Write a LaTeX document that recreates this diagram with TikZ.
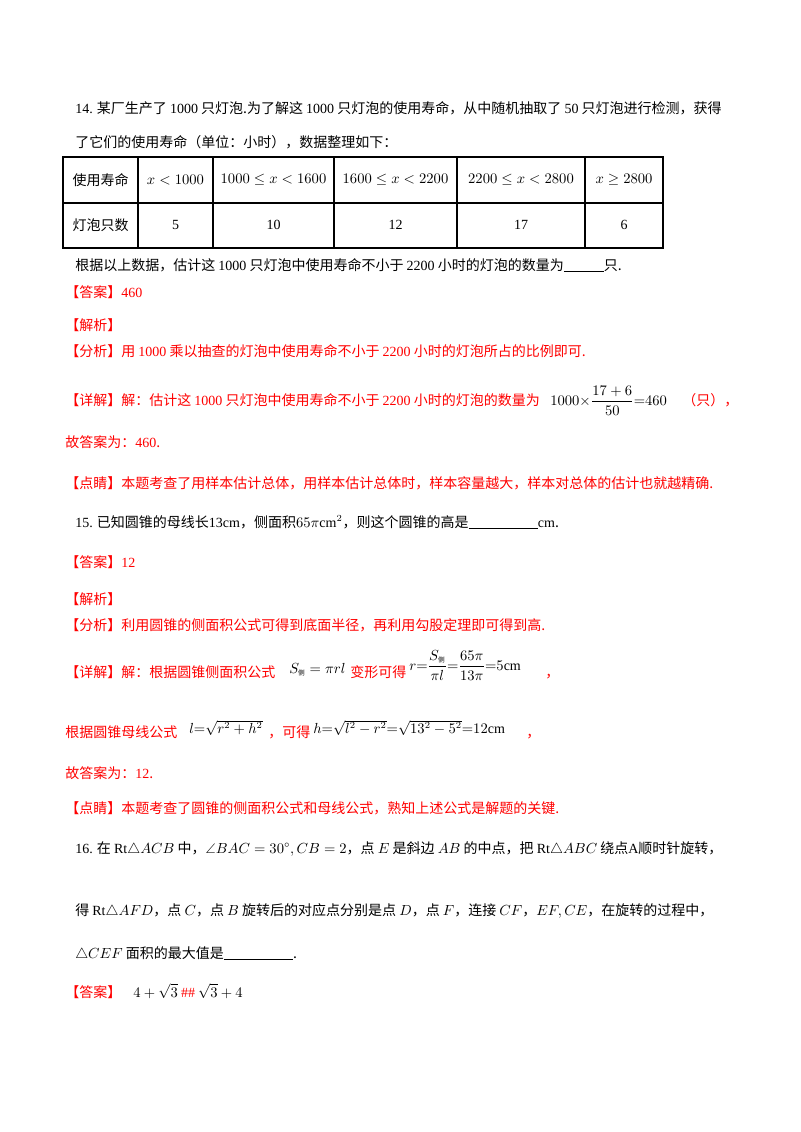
\documentclass[tikz,border=0pt]{standalone}
\usepackage{fontspec}
\usepackage{amsmath,amssymb}
\setmainfont{Liberation Serif}
\newfontfamily\cjk{Noto Sans CJK SC}
\newcommand{\tm}[1]{{\rmfamily #1}}
\begin{document}
\begin{tikzpicture}[x=0.75pt,y=-0.75pt,
  tx/.style={anchor=base west,inner sep=0pt,font=\cjk\fontsize{10.5}{12}\selectfont},
  mt/.style={anchor=base west,inner sep=0pt,font=\cjk\fontsize{10.5}{12}\selectfont},
  rd/.style={tx,text=red},
  cell/.style={inner sep=0pt,font=\cjk\fontsize{10.5}{12}\selectfont}]
\useasboundingbox (0,0) rectangle (800,1132);
\fill[white] (0,0) rectangle (800,1132);
% Q14
\node[tx] (l1) at (75,113) {\tm{14.} 某厂生产了 \tm{1000} 只灯泡.为了解这 \tm{1000} 只灯泡的使用寿命，从中随机抽取了 \tm{50} 只灯泡进行检测，获得};
\node[tx] (l2) at (75,147) {了它们的使用寿命（单位：小时），数据整理如下：};
\draw[line width=0.8pt] (63,157) rectangle (663,248);
\draw[line width=0.8pt] (63,203) -- (663,203);
\foreach \x in {138,213,334,457,585} \draw[line width=0.8pt] (\x,157) -- (\x,248);
\node[cell] (h0) at (100.5,180) {使用寿命};
\node[cell] (h1) at (175.5,180) {$x<1000$};
\node[cell] (h2) at (273.5,180) {$1000\le x<1600$};
\node[cell] (h3) at (395.5,180) {$1600\le x<2200$};
\node[cell] (h4) at (521,180) {$2200\le x<2800$};
\node[cell] (h5) at (624,180) {$x\ge 2800$};
\node[cell] (v0) at (100.5,225) {灯泡只数};
\node[cell] (v1) at (175.5,225) {\tm{5}};
\node[cell] (v2) at (273.5,225) {\tm{10}};
\node[cell] (v3) at (395.5,225) {\tm{12}};
\node[cell] (v4) at (521,225) {\tm{17}};
\node[cell] (v5) at (624,225) {\tm{6}};
\node[tx] (l3) at (75,270) {根据以上数据，估计这 \tm{1000} 只灯泡中使用寿命不小于 \tm{2200} 小时的灯泡的数量为\rule[-1.5pt]{30pt}{0.5pt}只.};
\node[rd] (a14) at (65,297) {【答案】\tm{460}};
\node[rd] (j14) at (65,330) {【解析】};
\node[rd] (f14) at (65,356) {【分析】用 \tm{1000} 乘以抽查的灯泡中使用寿命不小于 \tm{2200} 小时的灯泡所占的比例即可.};
\node[rd] (d14) at (65,405) {【详解】解：估计这 \tm{1000} 只灯泡中使用寿命不小于 \tm{2200} 小时的灯泡的数量为};
\node[mt] (m14) at (550,405) {$1000{\times}\dfrac{17+6}{50}{=}460$};
\node[rd] (u14) at (682,405) {（只），};
\node[rd] (g14) at (65,447) {故答案为：\tm{460}.};
\node[rd] (p14) at (65,488) {【点睛】本题考查了用样本估计总体，用样本估计总体时，样本容量越大，样本对总体的估计也就越精确.};
% Q15
\node[tx] (q15) at (75,527) {\tm{15.} 已知圆锥的母线长$\mathrm{13cm}$，侧面积$65\pi\mathrm{cm}^2$，则这个圆锥的高是\rule[-1.5pt]{52pt}{0.5pt}$\mathrm{cm}$.};
\node[rd] (a15) at (65,567) {【答案】\tm{12}};
\node[rd] (j15) at (65,604) {【解析】};
\node[rd] (f15) at (65,630) {【分析】利用圆锥的侧面积公式可得到底面半径，再利用勾股定理即可得到高.};
\node[rd] (d15) at (65,677) {【详解】解：根据圆锥侧面积公式};
\node[mt] (m15a) at (289,673) {$S_{\text{\cjk\tiny 侧}}=\pi rl$};
\node[rd] (t15) at (350,677) {变形可得};
\node[mt] (m15b) at (409,670) {$r{=}\dfrac{S_{\text{\cjk\tiny 侧}}}{\pi l}{=}\dfrac{65\pi}{13\pi}{=}5\mathrm{cm}$};
\node[rd] (c15) at (545,677) {，};
\node[rd] (e15) at (65,737) {根据圆锥母线公式};
\node[mt] (m15c) at (189,733) {$l{=}\sqrt{r^2+h^2}$};
\node[rd] (k15) at (268,737) {，可得};
\node[mt] (m15d) at (313,733) {$h{=}\sqrt{l^2-r^2}{=}\sqrt{13^2-5^2}{=}12\mathrm{cm}$};
\node[rd] (c15b) at (526,737) {，};
\node[rd] (g15) at (65,778) {故答案为：\tm{12}.};
\node[rd] (p15) at (65,813) {【点睛】本题考查了圆锥的侧面积公式和母线公式，熟知上述公式是解题的关键.};
% Q16
\node[tx] (q16) at (75,853) {\tm{16.} 在 $\mathrm{Rt}\triangle ACB$ 中，$\angle BAC=30^\circ,CB=2$，点 $E$ 是斜边 $AB$ 的中点，把 $\mathrm{Rt}\triangle ABC$ 绕点\tm{A}顺时针旋转，};
\node[tx] (r16) at (75,915) {得 $\mathrm{Rt}\triangle AFD$，点 $C$，点 $B$ 旋转后的对应点分别是点 $D$，点 $F$，连接 $CF$，$EF,CE$，在旋转的过程中，};
\node[tx] (s16) at (75,958) {$\triangle CEF$ 面积的最大值是\rule[-1.5pt]{52pt}{0.5pt}.};
\node[rd] (a16) at (65,997) {【答案】};
\node[tx] (m16) at (133,997) {$4+\sqrt{3}$ \textcolor{red}{\tm{\#\#}} $\sqrt{3}+4$};
\end{tikzpicture}
\end{document}
